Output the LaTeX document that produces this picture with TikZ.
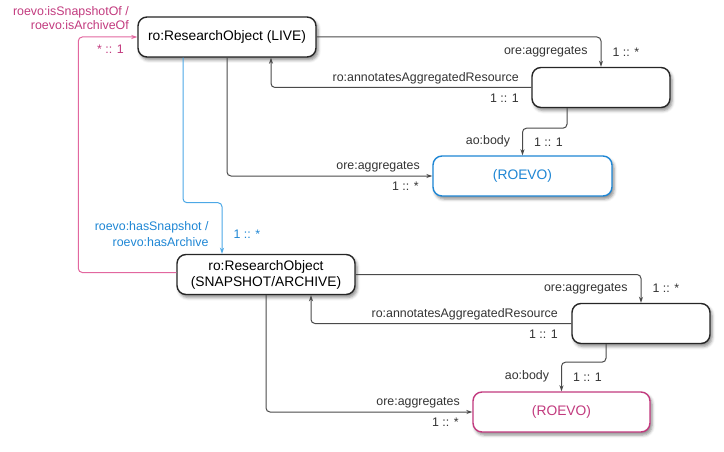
\documentclass[tikz,border=0pt]{standalone}
\usepackage{fontspec}
\setmainfont{Liberation Sans}
\usetikzlibrary{positioning, arrows.meta, shadows.blur}

\definecolor{roevopink}{HTML}{C23A7E}
\definecolor{roevopinkline}{HTML}{E2679F}
\definecolor{roevoblue}{HTML}{1E86D4}
\definecolor{roevoblueline}{HTML}{4CA8E6}
\definecolor{relgray}{HTML}{4A4A4A}

\begin{document}
\begin{tikzpicture}[x=1pt, y=-1pt, >={Stealth[length=6pt, width=4pt]},
    obj/.style={draw=black!85, line width=1.4pt, rounded corners=9pt, fill=white,
        minimum width=#1, minimum height=40pt, align=center,
        font=\fontsize{13.8}{16}\selectfont,
        blur shadow={shadow xshift=2pt, shadow yshift=-3pt, shadow blur radius=3pt, shadow opacity=45}},
    obj/.default=178pt,
    rel/.style={->, draw=relgray, line width=1pt, rounded corners=4pt},
    lbl/.style={font=\fontsize{12.4}{15}\selectfont, inner sep=1pt, text=black!80}]
    \useasboundingbox (0,0) rectangle (724,452);

    % LIVE research object
    \node[obj] (live) at (227,37) {ro:ResearchObject (LIVE)};
    \node[obj=138pt] (annot1) at (601,87.5) {};
    \node[obj=179pt, draw=roevoblue, text=roevoblue] (roevo1) at (522.5,176) {(ROEVO)};

    % SNAPSHOT/ARCHIVE research object
    \node[obj] (snap) at (266,274.5) {ro:ResearchObject\\(SNAPSHOT/ARCHIVE)};
    \node[obj=138pt] (annot2) at (641,323.5) {};
    \node[obj=177pt, draw=roevopink, text=roevopink] (roevo2) at (561.5,412) {(ROEVO)};

    % Relations of the live RO
    \draw[rel] (live) -| (annot1)
        node[lbl, pos=0.75, left=12pt] {ore:aggregates}
        node[lbl, pos=0.75, right=10pt] {1 :: *};
    \draw[rel] (annot1.west) -| ([xshift=44pt]live.south)
        node[lbl, pos=0, above left=2pt and 11pt] {ro:annotatesAggregatedResource}
        node[lbl, pos=0, below left=5pt and 11pt] {1 :: 1};
    \draw[rel] ([xshift=-34pt]annot1.south) -- ++(0,20) -| (roevo1)
        node[lbl, pos=0.75, left=11pt] {ao:body}
        node[lbl, pos=0.75, right=10pt] {1 :: 1};
    \draw[rel] (live) |- (roevo1)
        node[lbl, pos=1, above left=2pt and 11pt] {ore:aggregates}
        node[lbl, pos=1, below left=4pt and 12pt] {1 :: *};

    % Snapshot / archive links
    \draw[rel, draw=roevoblueline] ([xshift=-44pt]live.south) -- ++(0,145) -| ([xshift=-44pt]snap.north)
        node[lbl, text=roevoblue, pos=0.75, left=12pt, yshift=-6pt, align=right,
             font=\fontsize{12.4}{16}\selectfont] {roevo:hasSnapshot /\\roevo:hasArchive}
        node[lbl, text=roevoblue, pos=0.75, right=10pt, yshift=-6pt] {1 :: *};
    \draw[rel, draw=roevopinkline] ([yshift=2pt]snap.west) -- ++(-98,0) |- (live.west)
        node[lbl, text=roevopink, pos=1, above left=6pt and 7pt, align=right,
             font=\fontsize{12.4}{14}\selectfont] {roevo:isSnapshotOf /\\roevo:isArchiveOf}
        node[lbl, text=roevopink, pos=1, below left=6pt and 12pt] {* :: 1};

    % Relations of the snapshot RO
    \draw[rel] (snap) -| (annot2)
        node[lbl, pos=0.75, left=12pt] {ore:aggregates}
        node[lbl, pos=0.75, right=10pt] {1 :: *};
    \draw[rel] (annot2.west) -| ([xshift=45pt]snap.south)
        node[lbl, pos=0, above left=2pt and 12pt] {ro:annotatesAggregatedResource}
        node[lbl, pos=0, below left=5pt and 12pt] {1 :: 1};
    \draw[rel] ([xshift=-35pt]annot2.south) -- ++(0,18) -| (roevo2)
        node[lbl, pos=0.75, left=11pt] {ao:body}
        node[lbl, pos=0.75, right=10pt] {1 :: 1};
    \draw[rel] (snap) |- (roevo2)
        node[lbl, pos=1, above left=2pt and 11pt] {ore:aggregates}
        node[lbl, pos=1, below left=4pt and 12pt] {1 :: *};
\end{tikzpicture}
\end{document}
